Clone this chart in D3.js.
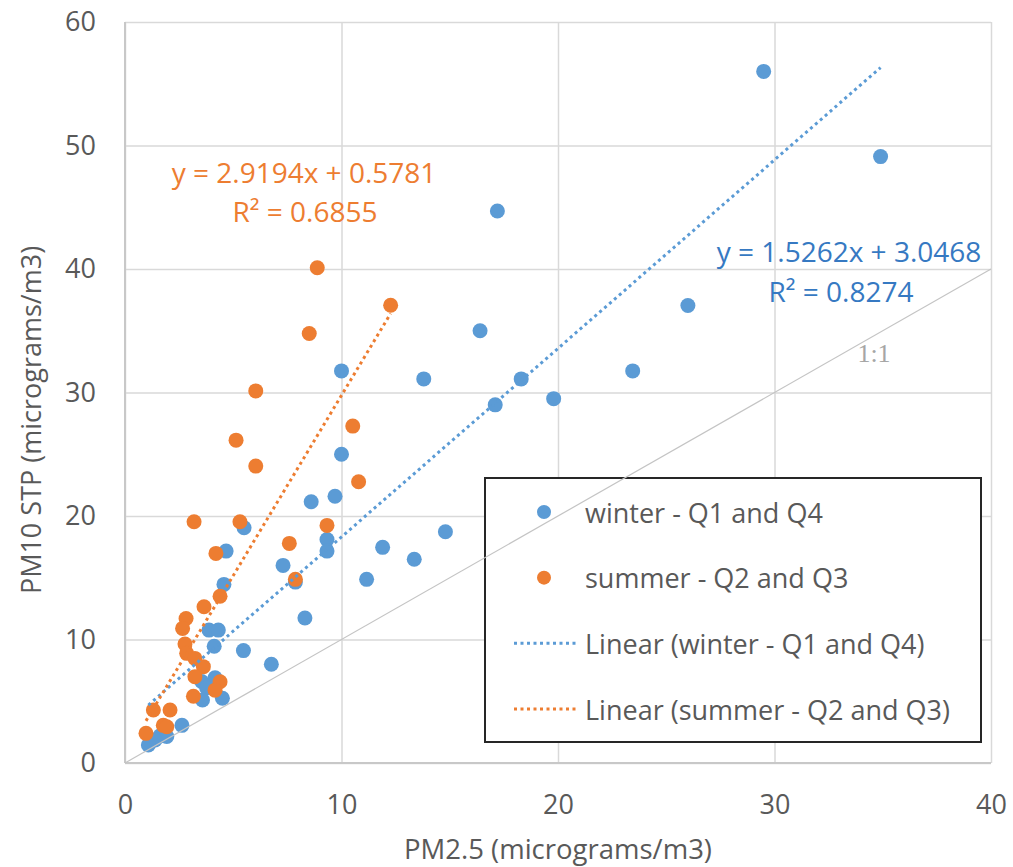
<!DOCTYPE html>
<html>
<head>
<meta charset="utf-8">
<script src="https://cdn.jsdelivr.net/npm/d3@7"></script>
<style>
  body { margin: 0; background: #fff; }
  svg { font-family: "Open Sans", sans-serif; }
</style>
</head>
<body>
<svg id="chart" width="1013" height="867"></svg>
<script>
// winter (Q1 and Q4)
const winterPm25 = [29.5, 34.9, 17.2, 26.0, 16.4, 23.45, 10.0, 13.8, 18.3, 17.1, 19.8, 10.0, 9.7, 8.6,
  5.5, 9.33, 9.33, 11.9, 13.36, 14.8, 4.67, 7.3, 11.16, 7.87, 4.57, 8.31, 3.88, 4.31, 4.12, 5.47,
  6.76, 4.16, 3.54, 3.77, 4.5, 3.58, 2.63, 1.62, 1.93, 1.39, 1.08];
const winterPm10 = [56.0, 49.1, 44.7, 37.05, 35.0, 31.75, 31.75, 31.1, 31.1, 29.0, 29.5, 25.0, 21.6, 21.15,
  19.05, 18.1, 17.16, 17.46, 16.5, 18.72, 17.16, 16.0, 14.87, 14.65, 14.46, 11.74, 10.76, 10.76, 9.45, 9.1,
  8.0, 6.9, 6.6, 6.1, 5.24, 5.1, 3.05, 2.2, 2.15, 1.86, 1.46];

// summer (Q2 and Q3)
const summerPm25 = [8.88, 12.27, 8.51, 6.04, 10.52, 5.13, 6.04, 10.79, 3.19, 5.31, 9.33, 7.59, 4.2, 7.87,
  4.39, 3.65, 2.82, 2.66, 2.77, 2.85, 3.23, 3.62, 3.23, 4.39, 4.16, 3.16, 1.31, 2.08, 1.77, 1.93, 0.97];
const summerPm10 = [40.1, 37.07, 34.78, 30.13, 27.28, 26.14, 24.04, 22.77, 19.53, 19.53, 19.24, 17.78, 16.97, 14.87,
  13.5, 12.65, 11.7, 10.9, 9.63, 8.88, 8.47, 7.8, 6.99, 6.58, 5.9, 5.4, 4.29, 4.29, 3.05, 2.94, 2.4];

// trendline slope / intercept, R2
const winterFit = [1.5262, 3.0468, 0.8274];
const summerFit = [2.9194, 0.5781, 0.6855];

const xTicks = [0, 10, 20, 30, 40];
const yTicks = [0, 10, 20, 30, 40, 50, 60];
const seriesNames = ["winter - Q1 and Q4", "summer - Q2 and Q3"];

const blue = "#5b9bd5";
const orange = "#ed7d31";
const textGrey = "#595959";

const svg = d3.select("#chart");
const plot = { left: 125, right: 991, top: 22, bottom: 763 };

const x = d3.scaleLinear().domain([0, 40]).range([plot.left, plot.right]);
const y = d3.scaleLinear().domain([0, 60]).range([plot.bottom, plot.top]);

// gridlines + tick labels
const xAxis = svg.append("g")
  .attr("transform", `translate(0,${plot.bottom})`)
  .call(d3.axisBottom(x).tickValues(xTicks).tickSize(-(plot.bottom - plot.top)).tickPadding(32));
const yAxis = svg.append("g")
  .attr("transform", `translate(${plot.left},0)`)
  .call(d3.axisLeft(y).tickValues(yTicks).tickSize(-(plot.right - plot.left)).tickPadding(29));

[xAxis, yAxis].forEach((g) => {
  g.select(".domain").remove();
  g.selectAll(".tick line").attr("stroke", "#d9d9d9").attr("stroke-width", 1.5);
  g.selectAll(".tick text")
    .attr("fill", textGrey)
    .attr("font-size", 27)
    .attr("font-family", "Open Sans, sans-serif");
});

// axis lines
svg.append("line")
  .attr("x1", plot.left).attr("x2", plot.left)
  .attr("y1", plot.top).attr("y2", plot.bottom)
  .attr("stroke", "#c8c8c8").attr("stroke-width", 2);
svg.append("line")
  .attr("x1", plot.left).attr("x2", plot.right)
  .attr("y1", plot.bottom).attr("y2", plot.bottom)
  .attr("stroke", "#c8c8c8").attr("stroke-width", 2);

// axis titles
svg.append("text")
  .attr("x", 558).attr("y", 859)
  .attr("text-anchor", "middle")
  .attr("fill", textGrey).attr("font-size", 27.5)
  .text("PM2.5 (micrograms/m3)");
svg.append("text")
  .attr("transform", "translate(30,420) rotate(-90)")
  .attr("text-anchor", "middle").attr("dominant-baseline", "central")
  .attr("fill", textGrey).attr("font-size", 27)
  .text("PM10 STP (micrograms/m3)");

// points
const winter = winterPm25.map((v, i) => ({ x: v, y: winterPm10[i] }));
const summer = summerPm25.map((v, i) => ({ x: v, y: summerPm10[i] }));

svg.append("g").selectAll("circle")
  .data(winter).enter().append("circle")
  .attr("cx", (d) => x(d.x)).attr("cy", (d) => y(d.y))
  .attr("r", 7.5).attr("fill", blue);

svg.append("g").selectAll("circle")
  .data(summer).enter().append("circle")
  .attr("cx", (d) => x(d.x)).attr("cy", (d) => y(d.y))
  .attr("r", 7.5).attr("fill", orange);

// linear trendlines
function trend(data, fit, color) {
  const [x0, x1] = d3.extent(data, (d) => d.x);
  const pts = [x0, x1].map((v) => [x(v), y(fit[0] * v + fit[1])]);
  svg.append("path")
    .attr("d", d3.line()(pts))
    .attr("fill", "none")
    .attr("stroke", color)
    .attr("stroke-width", 3)
    .attr("stroke-dasharray", "3 3.5");
}
trend(winter, winterFit, blue);
trend(summer, summerFit, orange);

// equation labels
function equation(fit, color, cx1, by1, cx2, by2) {
  svg.append("text")
    .attr("x", cx1).attr("y", by1).attr("text-anchor", "middle")
    .attr("fill", color).attr("font-size", 28)
    .text(`y = ${fit[0].toFixed(4)}x + ${fit[1].toFixed(4)}`);
  svg.append("text")
    .attr("x", cx2).attr("y", by2).attr("text-anchor", "middle")
    .attr("fill", color).attr("font-size", 28)
    .text(`R² = ${fit[2].toFixed(4)}`);
}
equation(summerFit, orange, 304, 183, 305, 222);
equation(winterFit, "#3679c2", 849, 262, 841, 302);

// legend
const legend = svg.append("g");
legend.append("rect")
  .attr("x", 485).attr("y", 478).attr("width", 496).attr("height", 264)
  .attr("fill", "#fff").attr("stroke", "#262626").attr("stroke-width", 2);

const legendItems = [
  { label: seriesNames[0], color: blue, type: "dot" },
  { label: seriesNames[1], color: orange, type: "dot" },
  { label: `Linear (${seriesNames[0]})`, color: blue, type: "line" },
  { label: `Linear (${seriesNames[1]})`, color: orange, type: "line" },
];
const legendY = d3.scalePoint().domain(d3.range(4)).range([512, 709]);

legendItems.forEach((d, i) => {
  const ly = legendY(i);
  if (d.type === "dot") {
    legend.append("circle").attr("cx", 544).attr("cy", ly).attr("r", 7).attr("fill", d.color);
  } else {
    legend.append("line")
      .attr("x1", 514).attr("x2", 578).attr("y1", ly).attr("y2", ly)
      .attr("stroke", d.color).attr("stroke-width", 3).attr("stroke-dasharray", "3 3.5");
  }
  legend.append("text")
    .attr("x", 585).attr("y", ly)
    .attr("dominant-baseline", "central")
    .attr("fill", textGrey).attr("font-size", 27)
    .text(d.label);
});

// 1:1 reference line
svg.append("line")
  .attr("x1", x(0)).attr("y1", y(0))
  .attr("x2", x(40)).attr("y2", y(40))
  .attr("stroke", "#c4c4c4").attr("stroke-width", 1.2);
svg.append("text")
  .attr("x", 874).attr("y", 362).attr("text-anchor", "middle")
  .attr("font-family", "Liberation Serif, serif")
  .attr("fill", "#a6a6a6").attr("font-size", 26)
  .text("1:1");
</script>
</body>
</html>
